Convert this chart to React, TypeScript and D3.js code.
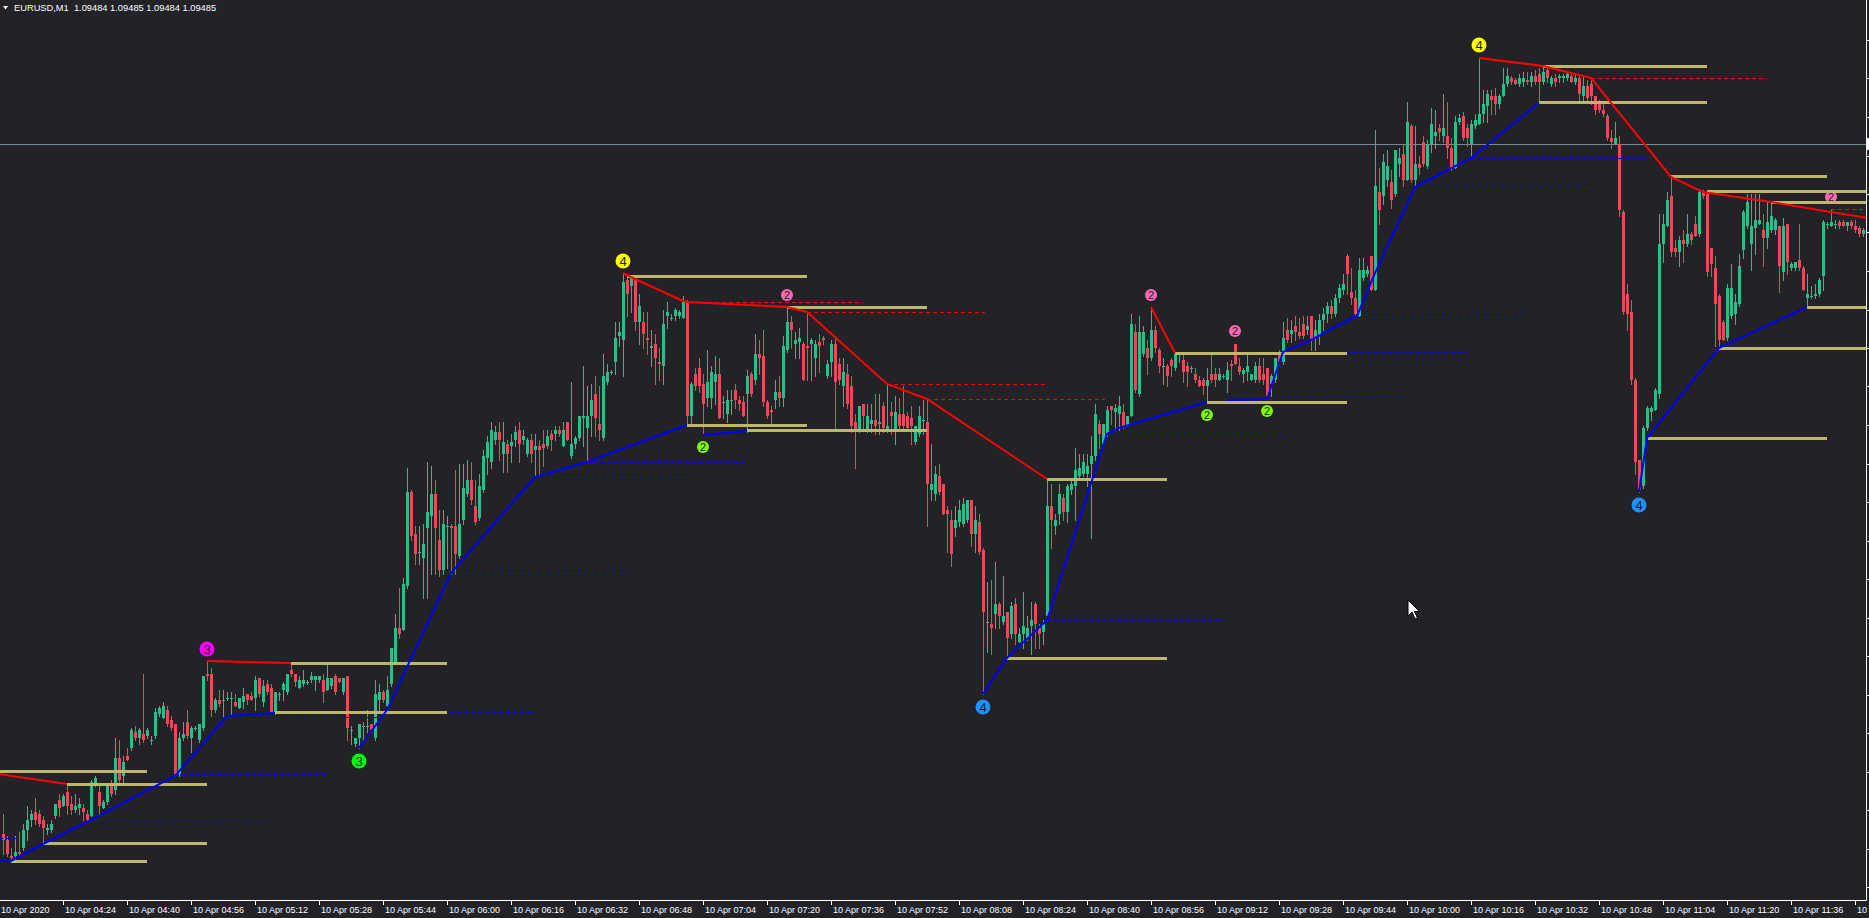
import React from 'react';
import * as d3 from 'd3';

// ---------- DATA (prices in points = 0.00001 above 1.09000) ----------
// one candle per minute, first bar = 10 Apr 04:09
const firstBarTime = '04:09';
const candles: [number, number, number, number][] = [
[140,150,130,137],[137,139,129,130],[129,133,126,128],[129,139,127,131],[131,141,129,130],[133,145,132,142],[142,154,137,147],[147,152,144,150],[151,158,145,147],[150,152,144,145],
[147,149,135,143],[142,145,140,143],[142,147,141,145],[149,155,148,155],[157,160,149,153],[154,160,154,159],[161,165,150,154],[155,159,150,152],[152,160,151,154],[153,158,150,155],
[153,155,147,151],[150,152,146,147],[149,167,149,166],[165,169,164,168],[161,165,150,154],[153,157,153,156],[156,165,155,164],[164,167,159,160],[162,188,160,178],[178,187,166,167],
[169,179,166,176],[179,183,177,177],[183,193,182,192],[191,194,187,188],[188,193,185,192],[190,220,186,187],[189,193,188,192],[187,189,185,187],[189,203,188,201],[200,204,199,203],
[198,206,198,204],[202,204,194,195],[197,199,192,193],[195,195,169,170],[170,191,169,188],[188,196,187,190],[196,202,188,189],[188,194,181,193],[193,194,192,193],[187,195,186,195],
[193,219,192,219],[220,226,217,219],[220,223,199,202],[202,208,201,207],[207,212,204,205],[207,212,199,207],[208,211,207,208],[208,211,200,208],[206,210,204,204],[203,208,203,208],
[206,213,203,209],[210,210,205,207],[209,211,207,207],[208,219,202,217],[218,218,209,210],[206,217,204,214],[215,217,210,211],[213,215,201,201],[201,211,200,211],[210,211,207,210],
[212,216,207,215],[211,220,210,220],[222,226,219,220],[220,220,214,216],[213,219,213,217],[215,222,214,217],[216,217,215,216],[217,221,216,219],[217,219,212,219],[217,219,216,219],
[217,220,206,211],[212,226,212,218],[214,218,213,218],[219,220,210,211],[218,218,216,216],[211,218,210,218],[219,219,187,193],[192,194,185,192],[185,188,184,188],[188,195,183,195],
[194,196,187,194],[194,202,191,194],[195,195,191,192],[188,217,187,210],[207,215,201,211],[211,212,206,207],[204,219,202,212],[215,233,214,233],[226,250,226,243],[243,263,238,240],
[242,268,242,265],[264,323,263,311],[311,312,287,289],[290,294,275,280],[281,294,275,281],[278,295,258,285],[293,326,258,301],[299,324,270,310],[310,317,270,293],[287,302,269,272],
[272,302,270,295],[294,299,273,294],[294,295,270,293],[294,322,270,280],[279,325,278,295],[297,325,295,313],[310,327,309,317],[317,326,305,307],[304,317,295,296],[298,320,297,314],
[312,332,311,329],[328,339,320,336],[326,346,323,342],[337,344,335,341],[341,346,327,337],[330,346,321,336],[335,337,321,330],[334,340,326,336],[337,344,334,341],[342,346,326,335],
[337,342,335,339],[330,338,329,337],[337,340,326,330],[332,340,319,334],[334,337,319,332],[335,342,324,333],[334,342,333,339],[340,342,332,337],[340,344,337,342],[342,344,339,340],
[334,346,334,342],[346,346,337,337],[329,366,328,335],[335,339,333,338],[338,349,337,349],[348,374,334,349],[343,364,326,349],[349,365,339,357],[360,369,339,348],[345,364,337,342],
[338,380,337,369],[366,375,365,371],[371,372,370,371],[376,396,370,388],[389,396,384,391],[387,420,369,416],[417,420,399,410],[414,419,401,418],[417,419,392,396],[396,410,385,404],
[396,401,383,390],[388,401,380,387],[383,392,374,384],[385,390,365,378],[376,383,367,375],[374,402,365,395],[399,406,393,401],[398,400,397,398],[399,403,397,402],[399,402,398,401],
[398,409,398,406],[406,407,345,349],[349,366,345,365],[370,373,362,364],[373,378,361,364],[365,370,340,355],[358,382,354,366],[358,374,353,371],[366,379,355,370],[370,378,348,348],
[356,359,348,356],[350,362,346,357],[357,362,350,357],[362,365,353,357],[357,359,352,355],[356,359,349,349],[360,372,341,369],[370,371,359,360],[367,390,365,380],[380,387,370,378],
[379,392,354,356],[356,357,348,349],[352,354,344,351],[357,367,353,361],[361,369,354,358],[358,389,354,384],[382,403,381,396],[396,399,383,392],[385,391,378,387],[386,393,378,388],
[385,386,367,367],[384,401,367,383],[385,388,367,387],[378,387,369,385],[386,390,371,384],[388,389,385,387],[369,377,368,375],[376,387,369,385],[385,389,342,366],[375,378,365,367],
[364,378,354,371],[370,375,353,355],[364,369,341,344],[346,350,323,342],[342,354,341,354],[355,355,342,349],[342,355,341,349],[345,355,341,347],[347,360,340,344],[345,360,340,346],
[354,356,341,343],[342,365,341,344],[351,356,340,349],[341,359,335,351],[350,358,343,344],[350,364,343,344],[349,351,343,343],[348,354,335,344],[336,344,335,344],[340,354,339,349],
[347,357,340,347],[346,357,294,315],[312,335,307,315],[310,324,307,320],[319,325,310,311],[315,315,300,300],[302,304,281,300],[297,302,274,280],[293,304,289,297],[296,307,294,302],
[295,308,294,305],[297,307,296,307],[307,307,284,290],[290,304,281,297],[296,300,280,281],[282,283,210,251],[246,266,231,246],[245,267,230,243],[250,276,243,255],[255,256,243,249],
[246,269,245,249],[251,251,228,238],[240,256,238,254],[255,258,235,240],[236,243,236,240],[240,261,233,244],[238,249,237,243],[244,256,230,247],[255,256,233,245],[243,245,233,240],
[241,247,235,245],[249,317,247,304],[304,315,283,297],[294,300,290,297],[300,315,295,310],[308,310,297,301],[301,315,296,314],[312,318,310,315],[314,333,297,322],[319,330,318,323],
[320,330,319,326],[320,330,314,324],[325,339,288,329],[329,355,327,350],[345,347,333,340],[335,345,334,345],[340,354,339,352],[354,354,345,352],[351,355,342,353],[350,359,342,354],
[351,355,343,344],[344,349,344,349],[349,400,349,395],[391,395,361,362],[360,399,359,391],[380,394,379,391],[383,387,370,378],[378,403,377,392],[392,394,381,383],[382,383,371,374],
[374,378,365,374],[374,375,364,369],[377,378,369,374],[373,381,372,380],[380,381,376,381],[377,380,366,371],[374,376,364,371],[373,374,371,373],[370,373,366,367],[367,369,364,364],
[367,368,360,364],[364,373,356,367],[370,380,366,367],[370,373,364,367],[367,373,367,370],[369,370,368,369],[367,376,361,372],[375,377,367,374],[385,385,375,375],[374,378,370,371],
[370,373,366,372],[371,380,367,374],[367,370,367,370],[367,376,366,374],[374,378,366,367],[370,378,365,367],[373,373,358,359],[365,370,359,369],[367,378,366,378],[380,382,375,376],
[376,396,375,388],[392,398,386,387],[390,397,386,392],[394,399,387,391],[391,398,388,389],[395,399,388,389],[392,399,390,394],[399,399,382,387],[388,397,382,392],[389,400,385,397],
[397,403,392,400],[400,406,396,404],[404,407,398,400],[400,410,399,408],[408,415,406,413],[412,420,410,415],[429,430,410,420],[411,423,405,408],[408,412,399,400],[399,428,399,422],
[418,428,417,422],[420,424,419,422],[429,429,412,412],[412,492,412,464],[461,473,445,452],[459,480,455,476],[467,482,464,474],[466,472,453,457],[460,482,459,482],[475,483,469,478],
[480,485,464,467],[467,506,467,496],[494,495,466,467],[467,494,464,475],[475,479,470,473],[486,489,474,475],[474,487,473,485],[485,503,481,495],[489,502,483,491],[493,495,487,491],
[489,510,486,493],[489,506,478,483],[483,488,472,473],[473,499,473,496],[496,500,495,498],[499,501,487,488],[493,495,484,488],[485,497,478,495],[494,500,493,497],[495,528,495,500],
[500,512,496,505],[504,512,496,510],[509,512,500,507],[509,513,500,505],[505,510,503,509],[509,523,509,515],[515,523,514,519],[518,519,515,516],[517,518,515,515],[515,520,514,518],
[516,521,514,518],[517,521,515,516],[516,521,514,519],[519,522,515,516],[520,523,506,516],[516,524,515,521],[522,523,516,518],[515,519,514,518],[518,520,514,516],[518,520,516,519],
[518,520,516,519],[518,521,517,520],[519,520,516,516],[516,520,515,518],[518,519,507,510],[509,519,507,514],[514,517,506,508],[515,518,505,509],[509,509,500,502],[505,507,501,502],
[502,505,499,500],[499,500,487,488],[488,492,483,486],[485,496,485,488],[485,489,449,452],[451,452,400,401],[410,415,392,400],[401,407,365,367],[367,368,320,326],[327,327,311,312],
[314,344,313,343],[343,354,342,353],[351,354,347,353],[352,363,352,362],[360,450,358,435],[435,450,426,445],[444,461,444,457],[459,469,429,431],[433,437,429,431],[431,439,424,437],
[437,442,426,435],[435,450,434,440],[440,441,435,437],[445,449,439,439],[440,462,439,461],[461,462,458,459],[460,461,419,421],[433,433,419,425],[423,429,384,405],[409,410,384,387],
[396,397,387,387],[388,415,387,413],[399,425,398,413],[400,410,395,406],[405,430,404,424],[432,452,428,451],[444,460,443,456],[435,460,422,444],[443,460,430,447],[445,460,445,447],
[442,450,424,438],[438,456,433,446],[442,455,441,449],[442,448,440,447],[444,444,411,424],[421,448,417,444],[445,445,420,426],[423,426,422,425],[423,426,422,426],[427,445,422,423],
[423,424,412,412],[408,420,404,410],[409,414,408,409],[409,415,408,410],[410,418,409,417],[419,447,412,446],[445,446,443,445],[444,452,444,446],[445,447,443,445],[446,447,443,444],
[446,447,444,444],[444,446,442,446],[446,447,443,444],[444,447,441,442],[443,444,439,440],[440,443,439,442],
];

// indicator polylines: [barIndex, price-points]
const bluePaths: [number, number][][] = [
  [[-1,126.5],[2,126.5],[10,135],[21,146],[43,169],[56,199],[68,200.5]],
  [[89,183],[96,202],[112,270.5],[133,318.5],[146,326],[171,344.5]],
  [[175,339.5],[186,341.5]],
  [[245,210],[251,228],[261,247],[276,340],[279,343],[301,356]],
  [[306,357],[316,357.5],[320,381],[327,387],[334,394.5],[338.5,399],[343,420.5],[353,463.5],[367,478],[384,505.5]],
  [[409,311],[411,338],[429,383],[451,403.5]],
];
const redPaths: [number, number][][] = [
  [[-1,170],[16,165]],
  [[51,226.5],[61,226],[72,225.5]],
  [[155,420.5],[158,417.5],[170,406.5],[171,406],[196,403.5],[201,401],[221,365],[231,357.5],[261,317.5]],
  [[287,403.5],[293,380.5]],
  [[369,528],[385,524],[397,518],[417,468.5],[425,461],[442,456],[466,448]],
];
// dashed levels: [fromBar, toBar, price]
const redDashed: [number, number, number][] = [
  [171,215,406],[201,245.5,401],[221,261,365],[231,275.5,357.5],[397,441,518],[457,466,452.5],
];
const blueDashed: [number, number, number][] = [
  [-1,4,138],[21,65,145.5],[43,81,170],[56,94,198.5],[68,133,201],[112,156,270.5],[133,171,318.5],[146,186,326],
  [261,305,247],[276,320.5,340.5],[316,351,357.5],[320,366,381],[338.5,381,398.5],[353,396,463.5],[367,411,478],
];
// support / resistance levels: [fromBar, toBar, price]
const levels: [number, number, number][] = [
  [-1,36,171.5],[16,51,165],[10,51,135.5],[2,36,126.5],[72,111,225.5],[68,111,201],
  [156,201,419],[196,231,403.5],[171,201,344.5],[186,231,342],[261,291,317.5],[251,291,228],
  [293,336,380.5],[301,336,356],[385,426,524],[384,426,506],[417,456,469],[426,466,461.5],
  [442,466,456],[451,466,403.5],[429,466,383],[411,456,338],
];
// swing markers: [bar, label, side, colour]
const markers: [number, string, 'high' | 'low', string][] = [
  [51,'3','high','#ff00ff'],[89,'3','low','#00ff00'],[155,'4','high','#ffff00'],[175,'2','low','#7cfc00'],
  [196,'2','high','#ff69b4'],[245,'4','low','#1e90ff'],[287,'2','high','#ff69b4'],[308,'2','high','#ff69b4'],
  [301,'2','low','#7cfc00'],[316,'2','low','#7cfc00'],[369,'4','high','#ffff00'],[409,'4','low','#1e90ff'],
  [457,'2','high','#ff69b4'],
];
const axisTimes = ['04:08','04:24','04:40','04:56','05:12','05:28','05:44','06:00','06:16','06:32','06:48','07:04','07:20','07:36','07:52','08:08','08:24','08:40','08:56','09:12','09:28','09:44','10:00','10:16','10:32','10:48','11:04','11:20','11:36','11:52'];
const bidPrice = 485;
const titleText = 'EURUSD,M1  1.09484 1.09485 1.09484 1.09485';

// ---------- STYLE ----------
const BG = '#222227';
const UP = '#2ebd88';
const DN = '#e64c57';
const KHAKI = '#bdb76b';
const FONT = '"Liberation Sans", Arial, sans-serif';
const W = 1869, H = 918, PR = 1866, PB = 900;

const toMin = (t: string) => { const [h, m] = t.split(':').map(Number); return h * 60 + m; };

export default function App() {
  const xs = d3.scaleLinear().domain([0, 465]).range([3, 1863]);
  const ys = d3.scaleLinear().domain([107, 557]).range([PB, 0]);
  const line = d3.line<[number, number]>().x(d => xs(d[0])).y(d => ys(d[1]));
  const base = toMin(firstBarTime);
  const priceTicks = d3.range(537, 107, -19.25);
  const hy = (p: number) => Math.round(ys(p)) + 0.5;

  return (
    <div>
      <style>{`body{margin:0;background:${BG};} svg{display:block}`}</style>
      <svg width={W} height={H} style={{ background: BG }}>
        <rect x={0} y={0} width={W} height={H} fill={BG} />
        <defs>
          <clipPath id="plot"><rect x={0} y={0} width={PR} height={PB} /></clipPath>
        </defs>
        {/* bid line */}
        <line x1={0} x2={PR} y1={hy(bidPrice)} y2={hy(bidPrice)} stroke="#778899" strokeWidth={1} />
        <g clipPath="url(#plot)" shapeRendering="crispEdges">
          {candles.map(([o, h, l, c], i) => {
            const x = Math.round(xs(i));
            const col = c >= o ? UP : DN;
            const hi = Math.max(h, o, c), lo = Math.min(l, o, c);
            const yt = Math.round(ys(Math.max(o, c)));
            const yb = Math.round(ys(Math.min(o, c)));
            return (
              <g key={i}>
                <line x1={x + 0.5} x2={x + 0.5} y1={Math.round(ys(hi))} y2={Math.round(ys(lo)) + 1} stroke={col} strokeWidth={1} />
                <rect x={x - 1} y={yt} width={3} height={Math.max(1, yb - yt)} fill={col} />
              </g>
            );
          })}
        </g>
        <g clipPath="url(#plot)">
          {markers.map(([k, lab, side, col], i) => {
            const cd = candles[k];
            const cy = side === 'high' ? ys(Math.max(cd[1], cd[0], cd[3])) - 13 : ys(Math.min(cd[2], cd[0], cd[3])) + 13;
            const r = lab === '2' ? 6 : 7.5;
            return (
              <g key={i}>
                <circle cx={xs(k)} cy={cy} r={r} fill={col} />
                <text x={xs(k)} y={cy} dy="0.36em" textAnchor="middle" fontSize={lab === '2' ? 11 : 13} fontFamily={FONT} fill="#1c1c24">{lab}</text>
              </g>
            );
          })}
          {redDashed.map(([a, b, p], i) => (
            <line key={i} x1={xs(a)} x2={xs(b)} y1={hy(p)} y2={hy(p)} stroke="#ff0000" strokeWidth={1} strokeDasharray="4,3" />
          ))}
          {blueDashed.map(([a, b, p], i) => (
            <line key={i} x1={xs(a)} x2={xs(b)} y1={hy(p)} y2={hy(p)} stroke="#0000ff" strokeWidth={1} strokeDasharray="4,3" />
          ))}
          {levels.map(([a, b, p], i) => (
            <line key={i} x1={xs(a)} x2={xs(b)} y1={hy(p)} y2={hy(p)} stroke={KHAKI} strokeWidth={3} />
          ))}
          {redPaths.map((p, i) => <path key={i} d={line(p) || ''} fill="none" stroke="#ff0000" strokeWidth={2} />)}
          {bluePaths.map((p, i) => <path key={i} d={line(p) || ''} fill="none" stroke="#0000ff" strokeWidth={2} />)}
        </g>
        {/* axes */}
        <line x1={0} x2={PR + 0.5} y1={PB + 0.5} y2={PB + 0.5} stroke="#ffffff" strokeWidth={1} />
        <line x1={PR + 0.5} x2={PR + 0.5} y1={0} y2={PB + 0.5} stroke="#ffffff" strokeWidth={1} />
        {priceTicks.map((p, i) => (
          <line key={i} x1={PR} x2={W} y1={hy(p)} y2={hy(p)} stroke="#ffffff" strokeWidth={1} />
        ))}
        <rect x={PR + 1} y={Math.round(ys(bidPrice)) - 6} width={3} height={12} fill="#ffffff" />
        {axisTimes.map((t, i) => {
          const x = Math.round(xs(toMin(t) - base)) + 0.5;
          return (
            <g key={t}>
              <line x1={x} x2={x} y1={PB} y2={PB + 5} stroke="#ffffff" strokeWidth={1} />
              <text x={x + 1.5} y={913} fontSize={9} fontFamily={FONT} fill="#ffffff">{i === 0 ? '10 Apr 2020' : `10 Apr ${t}`}</text>
            </g>
          );
        })}
        {/* title */}
        <polygon points="3,6 8,6 5.5,9.5" fill="#ffffff" />
        <text x={14} y={11} fontSize={9.3} fontFamily={FONT} fill="#ffffff" style={{ whiteSpace: 'pre' }}>{titleText}</text>
        {/* mouse cursor */}
        <g transform="translate(1408,600)">
          <polygon points="0,0 0,16 4,12 7,19 9.5,18 6.5,11.5 11.5,11.5" fill="#ffffff" stroke="#000000" strokeWidth={1} strokeLinejoin="round" />
        </g>
      </svg>
    </div>
  );
}
